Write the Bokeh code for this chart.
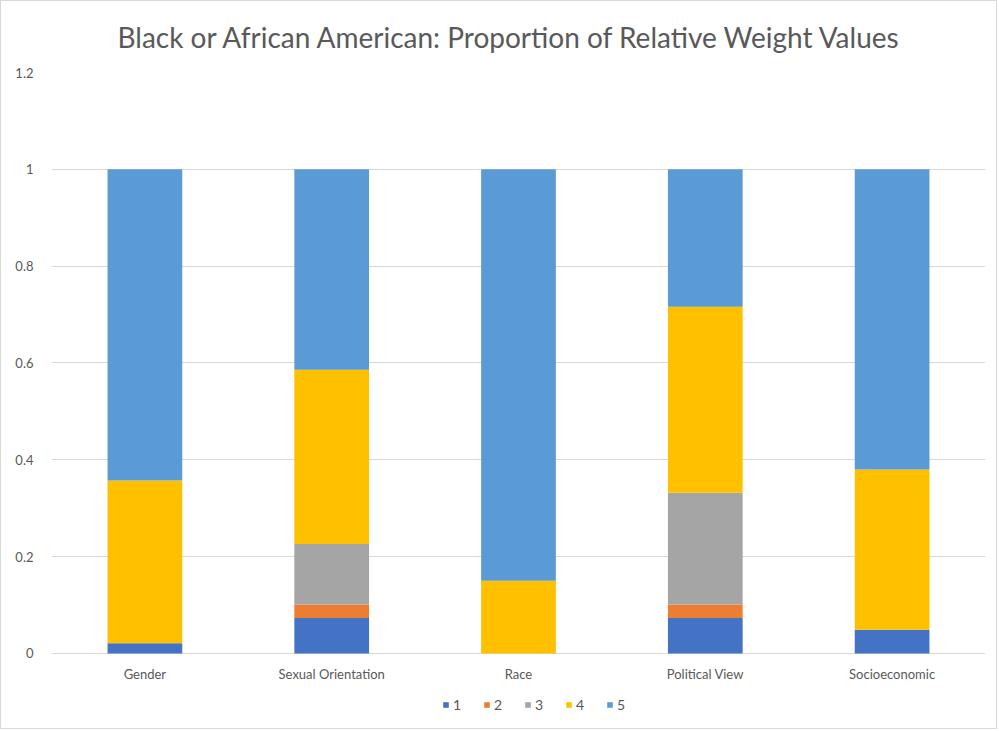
from bokeh.plotting import figure
from bokeh.models import FactorRange, Legend, LegendItem, Range1d, FixedTicker
from bokeh.core.properties import value
from bokeh.embed import file_html
from bokeh.resources import INLINE

categories = ["Gender", "Sexual Orientation", "Race", "Political View", "Socioeconomic"]
series_names = ["1", "2", "3", "4", "5"]
v1 = [0.021, 0.073, 0.0, 0.073, 0.049]
v2 = [0.0, 0.028, 0.0, 0.028, 0.0]
v3 = [0.0, 0.125, 0.0, 0.231, 0.0]
v4 = [0.336, 0.360, 0.150, 0.384, 0.331]
v5 = [0.643, 0.414, 0.850, 0.284, 0.620]
colors = ["#4472C4", "#ED7D31", "#A5A5A5", "#FFC000", "#5B9BD5"]
y_ticks = [0, 0.2, 0.4, 0.6, 0.8, 1, 1.2]
y_tick_labels = ["0", "0.2", "0.4", "0.6", "0.8", "1", "1.2"]

FONT = "Lato"
TXT = "#595959"

data = {"cat": categories, "1": v1, "2": v2, "3": v3, "4": v4, "5": v5}

# frame extends below zero so the category labels and legend can sit inside it
p = figure(x_range=FactorRange(*categories, range_padding=0.0), y_range=Range1d(-0.151, 1.2),
           width=997, height=729, output_backend="svg", toolbar_location=None,
           min_border_left=50, min_border_right=13, min_border_top=71, min_border_bottom=4)
p.styles = {"border": "1px solid #d9d9d9"}

renderers = p.vbar_stack(series_names, x="cat", width=0.4, color=colors, source=data,
                         line_color=None)

# category labels under the bars
p.text(x=categories, y=[0] * len(categories), text=categories, y_offset=21,
       text_align="center", text_baseline="middle", text_font=value(FONT),
       text_font_size="13px", text_color=TXT)

p.title.text = "Black or African American: Proportion of Relative Weight Values"
p.title.align = "left"
p.title.vertical_align = "top"
p.title.text_font = FONT
p.title.text_font_size = "28px"
p.title.text_font_style = "normal"
p.title.text_color = TXT
p.title.offset = 66
p.title.standoff = 34

p.outline_line_color = None
p.xgrid.grid_line_color = None
p.ygrid.grid_line_color = "#d9d9d9"
p.ygrid.grid_line_width = 1.2
p.ygrid.ticker = FixedTicker(ticks=y_ticks)

p.xaxis.visible = False

p.yaxis.ticker = FixedTicker(ticks=y_ticks)
p.yaxis.major_label_overrides = {t: l for t, l in zip(y_ticks, y_tick_labels)}
p.yaxis.axis_line_color = None
p.yaxis.major_tick_line_color = None
p.yaxis.minor_tick_line_color = None
p.yaxis.major_label_text_font = FONT
p.yaxis.major_label_text_font_size = "13px"
p.yaxis.major_label_text_color = TXT
p.yaxis.major_label_standoff = 12

items = [LegendItem(label=n, renderers=[r]) for n, r in zip(series_names, renderers)]
legend = Legend(items=items, orientation="horizontal", location=(391, 13),
                label_text_font=FONT, label_text_font_size="14px", label_text_color=TXT,
                glyph_width=7, glyph_height=7, spacing=10, label_standoff=4,
                label_height=14, border_line_color=None, background_fill_alpha=0,
                padding=0, margin=0)
p.add_layout(legend, "center")

open("out.html", "w").write(file_html(p, INLINE))
